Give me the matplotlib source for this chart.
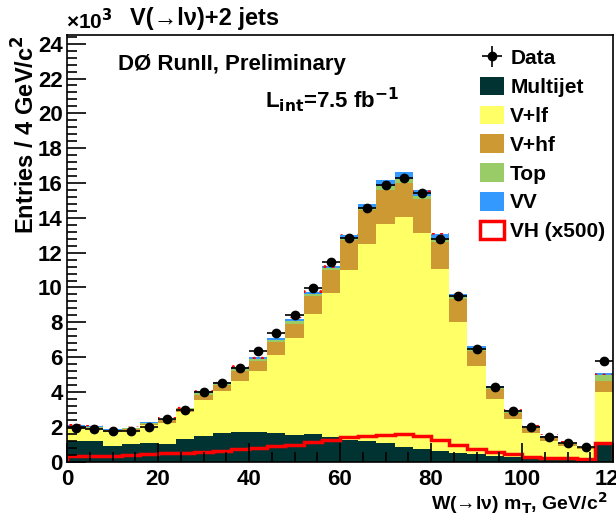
# D0 W(->lv)+2 jets, transverse mass of the W candidate
import numpy as np
import matplotlib
matplotlib.use('Agg')
import matplotlib.pyplot as plt
from matplotlib.patches import Patch
from matplotlib.ticker import MultipleLocator, AutoMinorLocator

plt.rcParams['font.family'] = ['Liberation Sans', 'DejaVu Sans']
plt.rcParams['font.weight'] = 'bold'
plt.rcParams['mathtext.default'] = 'bf'
plt.rcParams['hatch.linewidth'] = 1.0

# bins of 4 GeV from 0 to 120, counts in units of 10^3
edges = np.arange(0, 124, 4)

multijet = [1.20, 1.20, 0.91, 1.03, 1.08, 1.03, 1.31, 1.47, 1.62, 1.70,
            1.70, 1.66, 1.53, 1.58, 1.43, 1.24, 1.18, 1.08, 0.86, 0.72,
            0.63, 0.51, 0.44, 0.32, 0.25, 0.19, 0.13, 0.10, 0.06, 0.95]
v_lf = [0.65, 0.65, 0.79, 0.74, 1.00, 1.20, 1.54, 2.06, 2.43, 2.92,
        3.52, 4.49, 5.54, 6.87, 8.23, 9.79, 11.34, 12.59, 13.16, 12.43,
        10.42, 7.52, 5.06, 3.25, 2.18, 1.47, 1.07, 0.80, 0.64, 3.06]
v_hf = [0.12, 0.10, 0.09, 0.11, 0.10, 0.15, 0.15, 0.31, 0.34, 0.56,
        0.57, 0.73, 0.86, 1.05, 1.33, 1.68, 1.91, 1.95, 1.98, 1.92,
        1.57, 1.28, 0.85, 0.58, 0.38, 0.25, 0.19, 0.11, 0.10, 0.61]
top = [0.04, 0.03, 0.02, 0.03, 0.04, 0.04, 0.05, 0.11, 0.09, 0.12,
       0.09, 0.11, 0.13, 0.12, 0.11, 0.14, 0.15, 0.20, 0.22, 0.20,
       0.18, 0.12, 0.12, 0.09, 0.07, 0.06, 0.05, 0.03, 0.03, 0.35]
vv = [0.07, 0.05, 0.04, 0.04, 0.05, 0.04, 0.05, 0.12, 0.10, 0.15,
      0.10, 0.12, 0.14, 0.13, 0.12, 0.15, 0.20, 0.34, 0.41, 0.31,
      0.26, 0.18, 0.16, 0.10, 0.08, 0.07, 0.05, 0.04, 0.03, 0.10]
vh500 = [0.32, 0.32, 0.32, 0.40, 0.42, 0.47, 0.52, 0.57, 0.63, 0.70,
         0.78, 0.91, 0.97, 1.12, 1.24, 1.43, 1.49, 1.53, 1.58, 1.47,
         1.24, 0.93, 0.72, 0.55, 0.42, 0.28, 0.22, 0.18, 0.15, 1.08]
data = [1.91, 1.85, 1.74, 1.78, 2.00, 2.43, 2.95, 3.97, 4.49, 5.37,
        6.35, 7.40, 8.41, 9.95, 11.47, 12.85, 14.57, 15.91, 16.31, 15.45,
        12.77, 9.52, 6.46, 4.26, 2.88, 1.97, 1.43, 1.05, 0.84, 5.77]

componentes = [(multijet, '#023333', 'Multijet'),
               (v_lf, '#ffff66', 'V+lf'),
               (v_hf, '#cc9933', 'V+hf'),
               (top, '#99cc66', 'Top'),
               (vv, '#3399ff', 'VV')]

fig = plt.figure(figsize=(6.16, 5.14), dpi=100)
ax = fig.add_axes([67/616, 1-461.6/514, 546/616, 426.6/514])

centros = edges[:-1] + 2
base = np.zeros(len(centros))
handles = []
for valores, color, nombre in componentes:
    ax.bar(centros, valores, width=4, bottom=base, color=color,
           linewidth=0, label=nombre)
    handles.append(Patch(facecolor=color, edgecolor='none', label=nombre))
    base = base + np.array(valores)

# banda de incertidumbre (rayado rojo)
ax.bar(centros, 0.16, width=4, bottom=base-0.08, fill=False, hatch='..',
       edgecolor='red', linewidth=0)

# VH x500
ax.stairs(vh500, edges, color='red', linewidth=2.5)
handles.append(Patch(facecolor='white', edgecolor='red', linewidth=2.5, label='VH (x500)'))

datos = np.array(data)
err = ax.errorbar(centros, datos, xerr=2, yerr=np.sqrt(datos*1e3)/1e3, fmt='o',
                  color='black', markersize=6, elinewidth=1.2, capsize=0, label='Data')
handles.insert(0, err)

ax.set_xlim(0, 120)
ax.set_ylim(0, 24.5)
ax.xaxis.set_major_locator(MultipleLocator(20))
ax.xaxis.set_minor_locator(AutoMinorLocator(4))
ax.yaxis.set_major_locator(MultipleLocator(2))
ax.yaxis.set_minor_locator(AutoMinorLocator(5))
ax.tick_params(which='both', direction='in', labelsize=16, width=1.2)
ax.tick_params(which='major', length=14)
ax.tick_params(which='minor', length=7)
ax.tick_params(axis='x', pad=5)
ax.tick_params(axis='y', pad=3)
for s in ax.spines.values():
    s.set_linewidth(1.2)

ax.set_ylabel('Entries / 4 GeV/c$^{2}$', fontsize=17, fontweight='bold')
ax.yaxis.set_label_coords(-0.05, 1.0)
ax.yaxis.label.set_ha('right')
ax.set_xlabel('W(→lν) m$_{T}$, GeV/c$^{2}$', fontsize=14, fontweight='bold')
ax.xaxis.set_label_coords(0.99, -0.066)
ax.xaxis.label.set_ha('right')

fig.text(66/616, 1-29/514, '×10$^{3}$', fontsize=15, ha='left', va='baseline')
fig.text(205/616, 1-25/514, 'V(→lν)+2 jets', fontsize=17, ha='center', va='baseline')

fig.text(118/616, 1-70/514, 'DØ RunII, Preliminary', fontsize=16, ha='left', va='baseline')
fig.text(265/616, 1-108/514, 'L$_{int}$=7.5 fb$^{-1}$', fontsize=16, ha='left', va='baseline')

ax.legend(handles=handles, loc='upper left', bbox_to_anchor=(480/616, 1-48/514),
          bbox_transform=fig.transFigure, frameon=False, fontsize=15,
          handlelength=1.15, handleheight=1.0, labelspacing=0.4,
          handletextpad=0.3, borderpad=0, borderaxespad=0)

fig.savefig('out.png', dpi=100)
